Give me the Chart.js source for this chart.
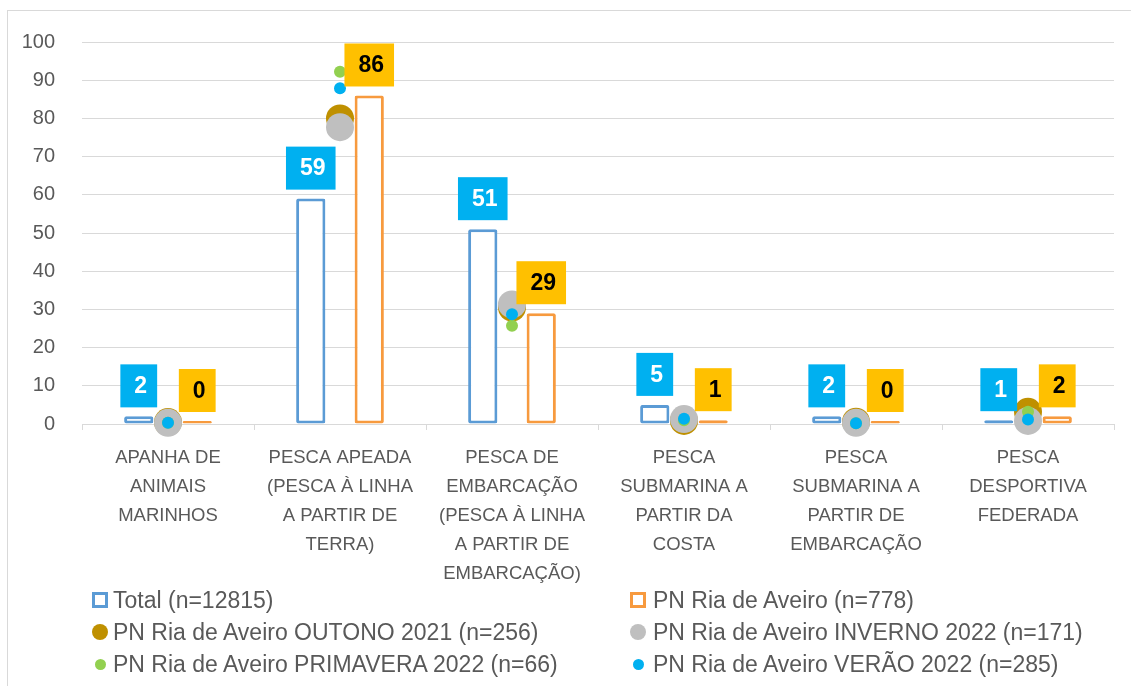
<!DOCTYPE html>
<html>
<head>
<meta charset="utf-8">
<script src="https://cdn.jsdelivr.net/npm/chart.js@4.4.1/dist/chart.umd.min.js"></script>
<style>
    body { margin: 0; background: #fff; font-family: "Liberation Sans", Arial, sans-serif; }
    #wrap { position: relative; width: 1131px; height: 686px; overflow: hidden; background: #fff; }
    #frame { position: absolute; left: 7px; top: 10px; width: 1200px; height: 800px; border: 1px solid #d9d9d9; }
    #chart { position: absolute; left: 0; top: 0; }
    .item { position: absolute; height: 32px; line-height: 32px; font-size: 23px; color: #595959; white-space: nowrap; }
    .mark { position: absolute; top: 50%; box-sizing: border-box; }
</style>
</head>
<body>
<div id="wrap">
    <div id="frame"></div>
    <canvas id="chart" width="1131" height="590"></canvas>
    <div id="legend"></div>
</div>
<script>
const categories = [
    ['APANHA DE', 'ANIMAIS', 'MARINHOS'],
    ['PESCA APEADA', '(PESCA À LINHA', 'A PARTIR DE', 'TERRA)'],
    ['PESCA DE', 'EMBARCAÇÃO', '(PESCA À LINHA', 'A PARTIR DE', 'EMBARCAÇÃO)'],
    ['PESCA', 'SUBMARINA A', 'PARTIR DA', 'COSTA'],
    ['PESCA', 'SUBMARINA A', 'PARTIR DE', 'EMBARCAÇÃO'],
    ['PESCA', 'DESPORTIVA', 'FEDERADA']
];
const seriesNames = [
    'Total (n=12815)',
    'PN Ria de Aveiro (n=778)',
    'PN Ria de Aveiro OUTONO 2021 (n=256)',
    'PN Ria de Aveiro INVERNO 2022 (n=171)',
    'PN Ria de Aveiro PRIMAVERA 2022 (n=66)',
    'PN Ria de Aveiro VERÃO 2022 (n=285)'
];
const totalValues = [2, 59, 51, 5, 2, 1];
const pnValues = [0, 86, 29, 1, 0, 2];
const outonoValues = [0.5, 80, 30.5, 0.8, 0.6, 3.2];
const invernoValues = [0.3, 77.7, 31.3, 1.3, 0.3, 0.8];
const primaveraValues = [0.3, 92.2, 25.7, 1, 0.2, 3.2];
const veraoValues = [0.3, 87.9, 28.7, 1.4, 0.2, 1.2];
const yTicks = [0, 10, 20, 30, 40, 50, 60, 70, 80, 90, 100];

const FONT = '"Liberation Sans", Arial, sans-serif';
const GRID = '#d9d9d9';

// coloured boxes with the value above each bar
const boxLabels = {
    id: 'boxLabels',
    afterDatasetsDraw(chart) {
        const ctx = chart.ctx;
        ctx.save();
        ctx.font = 'bold 23px ' + FONT;
        ctx.textAlign = 'center';
        ctx.textBaseline = 'middle';
        chart.data.datasets.forEach((ds, di) => {
            if (!ds.labelBg) return;
            chart.getDatasetMeta(di).data.forEach((bar, i) => {
                const txt = String(Math.round(ds.data[i]));
                const w = ctx.measureText(txt).width + 24;
                const h = 43;
                const x = bar.x - w / 2;
                const y = bar.y - 9 - h;
                ctx.fillStyle = ds.labelBg;
                ctx.fillRect(x, y, w, h);
                ctx.fillStyle = ds.labelColor;
                ctx.fillText(txt, bar.x + 2, y + h / 2 + 1);
            });
        });
        ctx.restore();
    }
};

function pointSet(label, data, color, radius, order) {
    return {
        type: 'line', label, data, order,
        showLine: false, clip: false,
        pointRadius: radius, pointHoverRadius: radius,
        pointBackgroundColor: color, pointBorderWidth: 0,
        borderColor: color, backgroundColor: color
    };
}

new Chart(document.getElementById('chart'), {
    type: 'bar',
    data: {
        labels: categories,
        datasets: [
            {
                label: seriesNames[0], data: totalValues, order: 5,
                backgroundColor: '#ffffff', borderColor: '#5B9BD5', borderWidth: 3,
                borderSkipped: false, borderRadius: 2, minBarLength: 3,
                labelBg: '#00B0F0', labelColor: '#ffffff'
            },
            {
                label: seriesNames[1], data: pnValues, order: 6,
                backgroundColor: '#ffffff', borderColor: '#F79A3E', borderWidth: 3,
                borderSkipped: false, borderRadius: 2, minBarLength: 3,
                labelBg: '#FFC000', labelColor: '#000000'
            },
            pointSet(seriesNames[2], outonoValues, '#BF9000', 14, 4),
            pointSet(seriesNames[3], invernoValues, '#BFBFBF', 14, 3),
            pointSet(seriesNames[4], primaveraValues, '#92D050', 6, 2),
            pointSet(seriesNames[5], veraoValues, '#00B0F0', 6, 1)
        ]
    },
    options: {
        responsive: false,
        animation: false,
        devicePixelRatio: 1,
        layout: { padding: { top: 42, right: 17, left: 0, bottom: 0 } },
        datasets: { bar: { barPercentage: 0.5, categoryPercentage: 0.68 } },
        plugins: { legend: { display: false }, tooltip: { enabled: false } },
        scales: {
            x: {
                offset: true,
                grid: { drawOnChartArea: false, drawTicks: true, tickLength: 6, color: GRID, offset: true },
                border: { color: GRID },
                ticks: {
                    color: '#595959', maxRotation: 0, autoSkip: false, padding: 13,
                    font: { family: FONT, size: 18.5, lineHeight: 29 / 18.5 }
                },
                afterFit: s => { s.height = 166; }
            },
            y: {
                min: 0, max: 100,
                afterBuildTicks: s => { s.ticks = yTicks.map(v => ({ value: v })); },
                grid: { color: GRID, drawTicks: false },
                border: { display: false },
                ticks: { color: '#595959', padding: 27, font: { family: FONT, size: 20 } },
                afterFit: s => { s.width = 82; }
            }
        }
    },
    plugins: [boxLabels]
});

// legend in two columns, as in the original
const legendMarks = [
    { shape: 'square', color: '#5B9BD5', size: 16 },
    { shape: 'square', color: '#F79A3E', size: 16 },
    { shape: 'circle', color: '#BF9000', size: 16 },
    { shape: 'circle', color: '#BFBFBF', size: 16 },
    { shape: 'circle', color: '#92D050', size: 11 },
    { shape: 'circle', color: '#00B0F0', size: 11 }
];
const legend = document.getElementById('legend');
seriesNames.forEach((name, i) => {
    const col = i % 2, row = Math.floor(i / 2);
    const left = col === 0 ? 92 : 630;
    const item = document.createElement('div');
    item.className = 'item';
    item.style.left = left + 'px';
    item.style.top = (584 + row * 32) + 'px';
    item.style.paddingLeft = (col === 0 ? 21 : 23) + 'px';
    const m = legendMarks[i];
    const mark = document.createElement('span');
    mark.className = 'mark';
    mark.style.width = m.size + 'px';
    mark.style.height = m.size + 'px';
    mark.style.marginTop = (-m.size / 2) + 'px';
    mark.style.left = ((16 - m.size) / 2) + 'px';
    if (m.shape === 'square') {
        mark.style.border = '3px solid ' + m.color;
        mark.style.background = '#fff';
    } else {
        mark.style.borderRadius = '50%';
        mark.style.background = m.color;
    }
    item.appendChild(mark);
    item.appendChild(document.createTextNode(name));
    legend.appendChild(item);
});
</script>
</body>
</html>
